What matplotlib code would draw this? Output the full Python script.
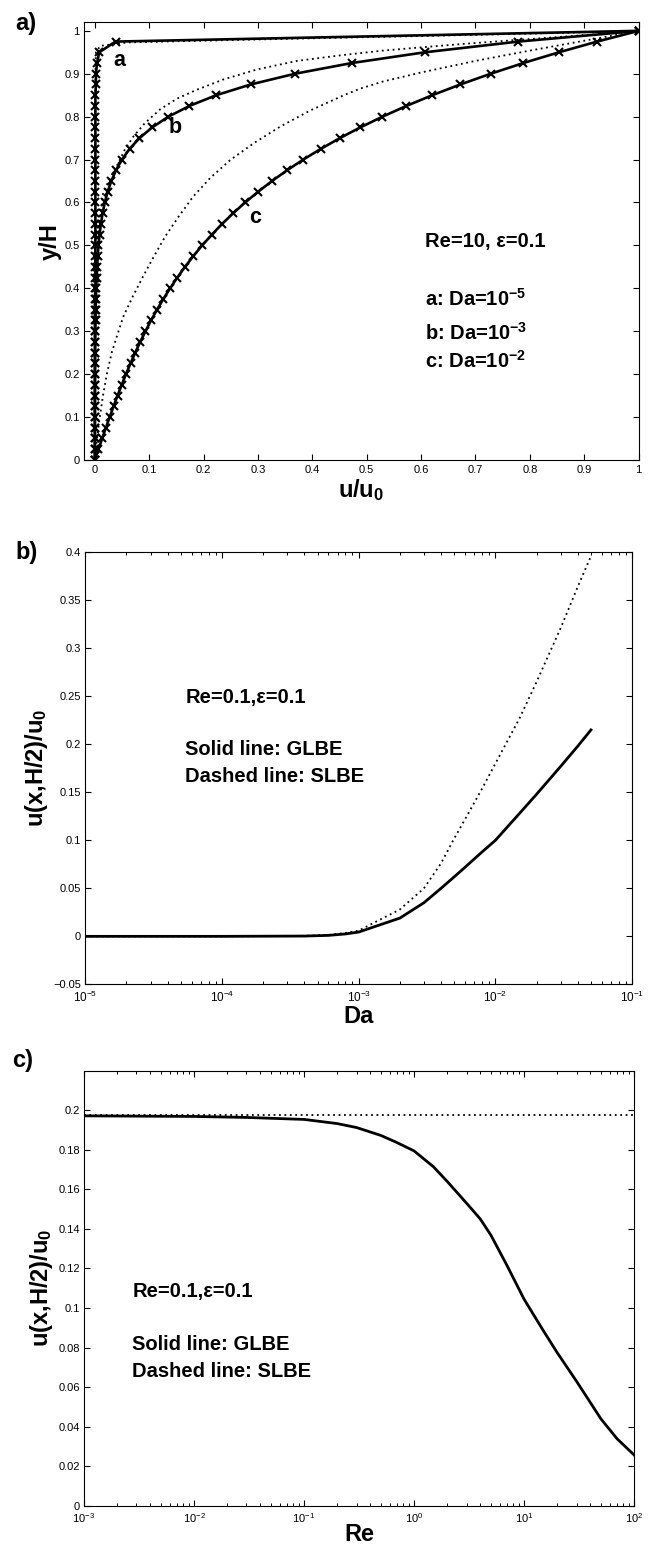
import matplotlib
matplotlib.use("Agg")
import matplotlib.pyplot as plt
from matplotlib.ticker import FixedLocator, FixedFormatter, LogLocator, NullFormatter

# ---------------- data: panel a ----------------
y_grid = [0.0, 0.025, 0.05, 0.075, 0.1, 0.125, 0.15, 0.175, 0.2, 0.225, 0.25, 0.275,
          0.3, 0.325, 0.35, 0.375, 0.4, 0.425, 0.45, 0.475, 0.5, 0.525, 0.55, 0.575,
          0.6, 0.625, 0.65, 0.675, 0.7, 0.725, 0.75, 0.775, 0.8, 0.825, 0.85, 0.875,
          0.9, 0.925, 0.95, 0.975, 1.0]
u_a = [0.0, 0.0, 0.0, 0.0, 0.0, 0.0, 0.0, 0.0, 0.0, 0.0, 0.0, 0.0,
       0.0, 0.0, 0.0, 0.0, 0.001, 0.001, 0.001, 0.001, 0.001, 0.001, 0.001, 0.001,
       0.001, 0.001, 0.001, 0.001, 0.001, 0.001, 0.001, 0.001, 0.001, 0.001, 0.001, 0.002,
       0.002, 0.004, 0.008, 0.038, 1.0]
u_b = [0.0, 0.0001, 0.0001, 0.0001, 0.0001, 0.0002, 0.0002, 0.0003, 0.0003, 0.0004, 0.0006, 0.0007,
       0.0009, 0.0012, 0.0015, 0.0019, 0.0025, 0.0032, 0.0041, 0.0052, 0.0067, 0.0087, 0.0111, 0.0143,
       0.0183, 0.0235, 0.0302, 0.0388, 0.0498, 0.0639, 0.0821, 0.1054, 0.1353, 0.1738, 0.2231, 0.2865,
       0.3679, 0.4724, 0.6065, 0.7788, 1.0]
u_c = [0.0, 0.0067, 0.0135, 0.0203, 0.0273, 0.0344, 0.0418, 0.0494, 0.0573, 0.0656, 0.0742, 0.0834,
       0.0931, 0.1033, 0.1142, 0.1259, 0.1383, 0.1516, 0.1658, 0.1810, 0.1974, 0.2150, 0.2340, 0.2544,
       0.2764, 0.3001, 0.3258, 0.3534, 0.3833, 0.4156, 0.4505, 0.4882, 0.5289, 0.5728, 0.6205, 0.6720,
       0.7277, 0.7880, 0.8533, 0.9236, 1.0]

# dotted (SLBE) profiles
dot_a_u = [0.0, 0.0, 0.001, 0.002, 0.01, 0.06, 0.3, 0.6, 0.85, 1.0]
dot_a_y = [0.0, 0.6, 0.9, 0.95, 0.965, 0.973, 0.98, 0.988, 0.995, 1.0]
dot_b_u = [0.0, 0.001, 0.002, 0.004, 0.009, 0.015, 0.027, 0.040, 0.055, 0.071, 0.092, 0.120,
           0.151, 0.188, 0.237, 0.298, 0.372, 0.452, 0.53, 0.6, 0.672, 0.768, 0.9, 1.0]
dot_b_y = [0.0, 0.3, 0.4, 0.48, 0.56, 0.62, 0.655, 0.684, 0.723, 0.754, 0.785, 0.817,
           0.842, 0.863, 0.887, 0.910, 0.930, 0.943, 0.954, 0.9615, 0.969, 0.978, 0.99, 1.0]
dot_c_u = [0.0, 0.004, 0.009, 0.015, 0.022, 0.031, 0.041, 0.052, 0.069, 0.088, 0.108, 0.129,
           0.154, 0.181, 0.212, 0.249, 0.292, 0.341, 0.397, 0.458, 0.487, 0.53, 0.6, 0.7,
           0.8, 0.9, 1.0]
dot_c_y = [0.0, 0.05, 0.1, 0.15, 0.2, 0.25, 0.29, 0.333, 0.379, 0.426, 0.473, 0.520,
           0.567, 0.614, 0.657, 0.699, 0.738, 0.777, 0.815, 0.85, 0.865, 0.882, 0.903, 0.93,
           0.954, 0.977, 1.0]

a_ticks = [0, 0.1, 0.2, 0.3, 0.4, 0.5, 0.6, 0.7, 0.8, 0.9, 1]
a_ticklabels = ["0", "0.1", "0.2", "0.3", "0.4", "0.5", "0.6", "0.7", "0.8", "0.9", "1"]

# ---------------- data: panel b ----------------
Da = [1e-5, 1e-4, 4e-4, 6e-4, 8e-4, 1e-3, 2e-3, 3e-3, 4e-3, 5e-3, 6e-3, 8e-3,
      1e-2, 1.5e-2, 2e-2, 3e-2, 4e-2, 5e-2]
u_glbe_b = [0.0, 0.0, 0.0003, 0.001, 0.0025, 0.0045, 0.019, 0.035, 0.050, 0.062, 0.072, 0.088,
            0.100, 0.128, 0.148, 0.177, 0.198, 0.215]
u_slbe_b = [0.0, 0.0, 0.0005, 0.0015, 0.0035, 0.006, 0.028, 0.050, 0.076, 0.102, 0.122, 0.154,
            0.180, 0.227, 0.265, 0.321, 0.364, 0.396]
b_xticks = [1e-5, 1e-4, 1e-3, 1e-2, 1e-1]
b_xticklabels = [r"$10^{-5}$", r"$10^{-4}$", r"$10^{-3}$", r"$10^{-2}$", r"$10^{-1}$"]
b_yticks = [-0.05, 0, 0.05, 0.1, 0.15, 0.2, 0.25, 0.3, 0.35, 0.4]
b_yticklabels = ["\u22120.05", "0", "0.05", "0.1", "0.15", "0.2", "0.25", "0.3", "0.35", "0.4"]

# ---------------- data: panel c ----------------
Re = [1e-3, 1e-2, 0.03, 0.1, 0.2, 0.3, 0.5, 0.7, 1, 1.5, 2, 3, 4, 5, 7, 10, 15, 20, 30, 50, 70, 100]
u_glbe_c = [0.1971, 0.1968, 0.1963, 0.1953, 0.1932, 0.1912, 0.1872, 0.1836, 0.1794, 0.1714,
            0.1640, 0.1530, 0.1450, 0.1368, 0.1215, 0.1045, 0.0885, 0.0775, 0.0630, 0.0440,
            0.0340, 0.0258]
u_slbe_c = [0.1976] * len(Re)
c_xticks = [1e-3, 1e-2, 1e-1, 1e0, 1e1, 1e2]
c_xticklabels = [r"$10^{-3}$", r"$10^{-2}$", r"$10^{-1}$", r"$10^{0}$", r"$10^{1}$", r"$10^{2}$"]
c_yticks = [0, 0.02, 0.04, 0.06, 0.08, 0.1, 0.12, 0.14, 0.16, 0.18, 0.2]
c_yticklabels = ["0", "0.02", "0.04", "0.06", "0.08", "0.1", "0.12", "0.14", "0.16", "0.18", "0.2"]

# ---------------- style ----------------
plt.rcParams.update({
    "font.family": ["Liberation Sans", "DejaVu Sans"],
    "mathtext.fontset": "custom",
    "mathtext.rm": "Liberation Sans",
    "mathtext.it": "Liberation Sans:italic",
    "mathtext.bf": "Liberation Sans:bold",
    "axes.linewidth": 0.8,
    "xtick.direction": "in", "ytick.direction": "in",
    "xtick.top": True, "ytick.right": True,
    "xtick.major.size": 4, "ytick.major.size": 4,
    "xtick.minor.size": 2.2, "ytick.minor.size": 2.2,
    "xtick.major.width": 0.8, "ytick.major.width": 0.8,
    "xtick.minor.width": 0.7,
    "xtick.labelsize": 8, "ytick.labelsize": 8,
    "xtick.major.pad": 4, "ytick.major.pad": 3,
})

LBL = dict(fontsize=17, fontweight="bold")
ANN = dict(fontsize=14.5, fontweight="bold")
DOT = dict(color="k", linestyle=(0, (1, 2)), linewidth=1.3)

fig = plt.figure(figsize=(6.51, 15.47), dpi=100)

# ---------- panel a ----------
axA = fig.add_axes([0.129, 0.7027, 0.852, 0.2829])
axA.plot(dot_a_u, dot_a_y, **DOT)
axA.plot(dot_b_u, dot_b_y, **DOT)
axA.plot(dot_c_u, dot_c_y, **DOT)
for u in (u_a, u_b, u_c):
    axA.plot(u, y_grid, color="k", lw=1.9, marker="x", ms=6, mew=1.5)
axA.set_xlim(-0.02, 1.0)
axA.set_ylim(0, 1.02)
axA.xaxis.set_major_locator(FixedLocator(a_ticks))
axA.xaxis.set_major_formatter(FixedFormatter(a_ticklabels))
axA.yaxis.set_major_locator(FixedLocator(a_ticks))
axA.yaxis.set_major_formatter(FixedFormatter(a_ticklabels))
axA.set_xlabel(r"u/u$_\mathbf{0}$", labelpad=1, **LBL)
axA.set_ylabel("y/H", labelpad=2, **LBL)
axA.text(0.046, 0.93, "a", ha="center", va="center", fontsize=15.5, fontweight="bold")
axA.text(0.148, 0.774, "b", ha="center", va="center", fontsize=15.5, fontweight="bold")
axA.text(0.295, 0.565, "c", ha="center", va="center", fontsize=15.5, fontweight="bold")
axA.text(0.607, 0.496, "Re=10, \u03b5=0.1", ha="left", va="baseline", **ANN)
axA.text(0.607, 0.360, r"a: Da=10$^{\mathbf{-5}}$", ha="left", va="baseline", **ANN)
axA.text(0.607, 0.279, r"b: Da=10$^{\mathbf{-3}}$", ha="left", va="baseline", **ANN)
axA.text(0.607, 0.215, r"c: Da=10$^{\mathbf{-2}}$", ha="left", va="baseline", **ANN)

# ---------- panel b ----------
axB = fig.add_axes([0.131, 0.3637, 0.840, 0.2793])
axB.plot(Da, u_slbe_b, **DOT)
axB.plot(Da, u_glbe_b, color="k", lw=2.0)
axB.set_xscale("log")
axB.set_xlim(1e-5, 1e-1)
axB.set_ylim(-0.05, 0.4)
axB.xaxis.set_major_locator(FixedLocator(b_xticks))
axB.xaxis.set_major_formatter(FixedFormatter(b_xticklabels))
axB.xaxis.set_minor_locator(LogLocator(base=10, subs=(2, 3, 4, 5, 6, 7, 8, 9)))
axB.xaxis.set_minor_formatter(NullFormatter())
axB.yaxis.set_major_locator(FixedLocator(b_yticks))
axB.yaxis.set_major_formatter(FixedFormatter(b_yticklabels))
axB.tick_params(axis="x", which="major", labelsize=8.5, pad=4)
axB.set_xlabel("Da", labelpad=0, **LBL)
axB.set_ylabel(r"u(x,H/2)/u$_\mathbf{0}$", labelpad=2, **LBL)
axB.text(5.4e-5, 0.2433, "Re=0.1,\u03b5=0.1", ha="left", va="baseline", **ANN)
axB.text(5.4e-5, 0.1889, "Solid line: GLBE", ha="left", va="baseline", **ANN)
axB.text(5.4e-5, 0.161, "Dashed line: SLBE", ha="left", va="baseline", **ANN)

# ---------- panel c ----------
axC = fig.add_axes([0.129, 0.0265, 0.845, 0.2815])
axC.plot(Re, u_slbe_c, **DOT)
axC.plot(Re, u_glbe_c, color="k", lw=2.0)
axC.set_xscale("log")
axC.set_xlim(1e-3, 1e2)
axC.set_ylim(0, 0.22)
axC.xaxis.set_major_locator(FixedLocator(c_xticks))
axC.xaxis.set_major_formatter(FixedFormatter(c_xticklabels))
axC.xaxis.set_minor_locator(LogLocator(base=10, subs=(2, 3, 4, 5, 6, 7, 8, 9)))
axC.xaxis.set_minor_formatter(NullFormatter())
axC.yaxis.set_major_locator(FixedLocator(c_yticks))
axC.yaxis.set_major_formatter(FixedFormatter(c_yticklabels))
axC.tick_params(axis="x", which="major", labelsize=8, pad=4)
axC.set_xlabel("Re", labelpad=-2, **LBL)
axC.set_ylabel(r"u(x,H/2)/u$_\mathbf{0}$", labelpad=2, **LBL)
axC.text(2.76e-3, 0.1058, "Re=0.1,\u03b5=0.1", ha="left", va="baseline", **ANN)
axC.text(2.76e-3, 0.0786, "Solid line: GLBE", ha="left", va="baseline", **ANN)
axC.text(2.76e-3, 0.0651, "Dashed line: SLBE", ha="left", va="baseline", **ANN)

# panel letters
fig.text(0.024, 0.9925, "a)", ha="left", va="top", fontsize=17, fontweight="bold")
fig.text(0.024, 0.6505, "b)", ha="left", va="top", fontsize=17, fontweight="bold")
fig.text(0.018, 0.3222, "c)", ha="left", va="top", fontsize=17, fontweight="bold")

fig.savefig("out.png", dpi=100)
